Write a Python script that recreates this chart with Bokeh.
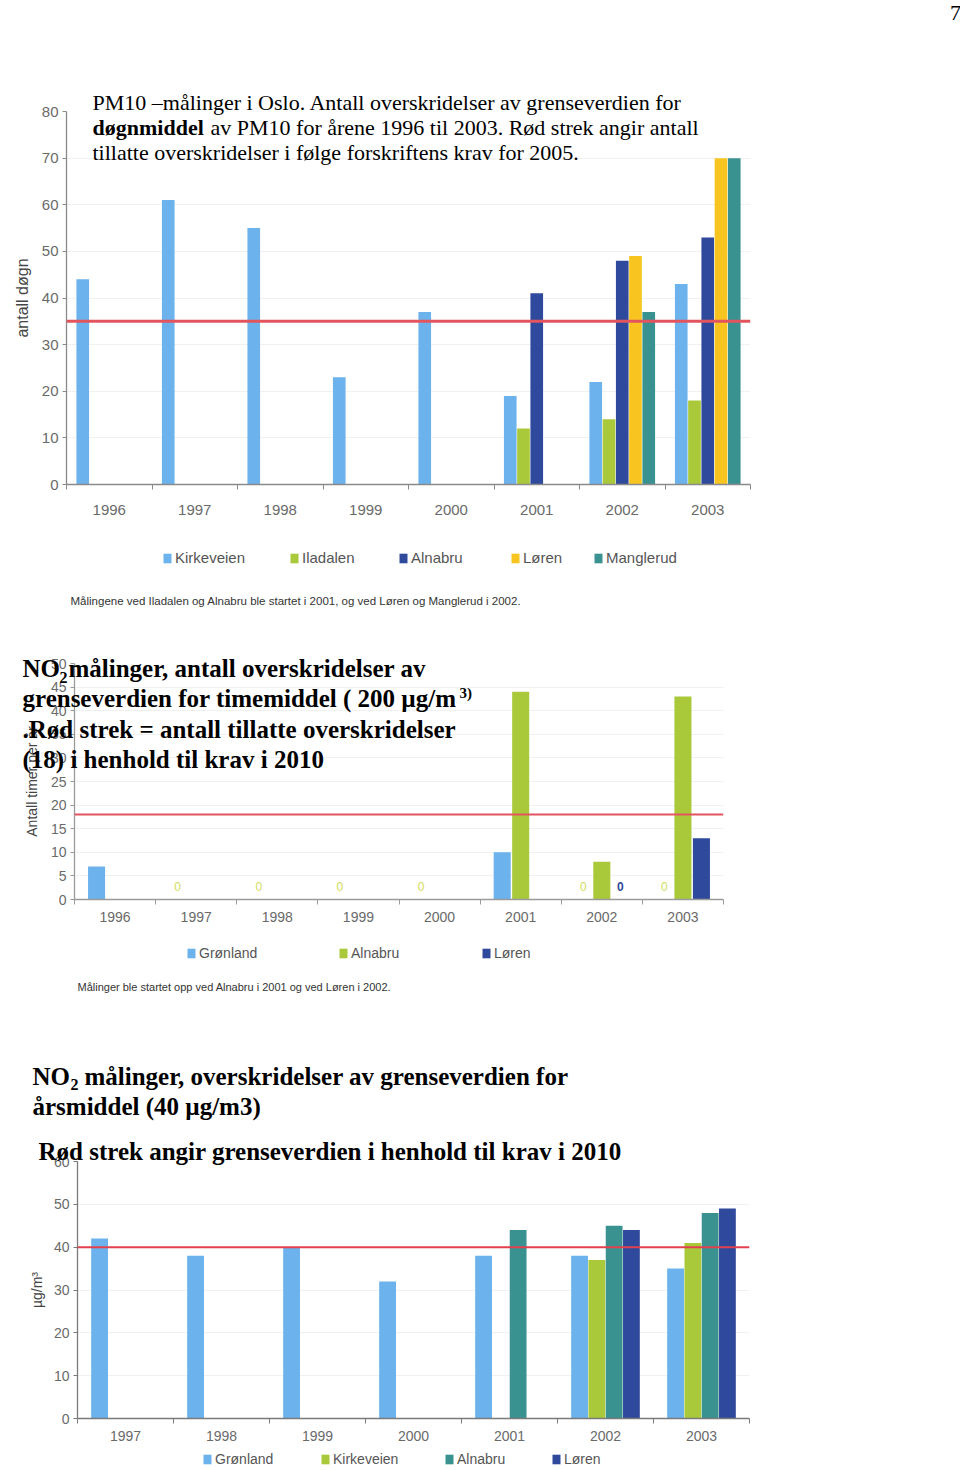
import numpy as np
from bokeh.plotting import figure
from bokeh.models import Range1d, FixedTicker, Span, Label, Legend, LegendItem
from bokeh.layouts import column
from bokeh.core.properties import value
from bokeh.embed import file_html
from bokeh.resources import INLINE

nan = float("nan")

# ---------------- Chart 1: PM10, antall døgn ----------------
pm10_years = ["1996", "1997", "1998", "1999", "2000", "2001", "2002", "2003"]
pm10_kirkeveien = [44, 61, 55, 23, 37, 19, 22, 43]
pm10_iladalen = [nan, nan, nan, nan, nan, 12, 14, 18]
pm10_alnabru = [nan, nan, nan, nan, nan, 41, 48, 53]
pm10_loren = [nan, nan, nan, nan, nan, nan, 49, 70]
pm10_manglerud = [nan, nan, nan, nan, nan, nan, 37, 70]
pm10_limit = 35
pm10_yticks = [0, 10, 20, 30, 40, 50, 60, 70, 80]

# ---------------- Chart 2: NO2 timemiddel ----------------
no2h_years = ["1996", "1997", "1998", "1999", "2000", "2001", "2002", "2003"]
no2h_gronland = [7, 0, 0, 0, 0, 10, 0, 0]
no2h_alnabru = [nan, nan, nan, nan, nan, 44, 8, 43]
no2h_loren = [nan, nan, nan, nan, nan, nan, 0, 13]
no2h_limit = 18
no2h_yticks = [0, 5, 10, 15, 20, 25, 30, 35, 40, 45, 50]

# ---------------- Chart 3: NO2 årsmiddel ----------------
no2a_years = ["1997", "1998", "1999", "2000", "2001", "2002", "2003"]
no2a_gronland = [42, 38, 40, 32, 38, 38, 35]
no2a_kirkeveien = [nan, nan, nan, nan, nan, 37, 41]
no2a_alnabru = [nan, nan, nan, nan, 44, 45, 48]
no2a_loren = [nan, nan, nan, nan, nan, 44, 49]
no2a_limit = 40
no2a_yticks = [0, 10, 20, 30, 40, 50, 60]

LIGHT = "#6cb2ec"
GREEN = "#a9c93a"
DARK = "#2f4a9c"
YELLOW = "#f8c520"
TEAL = "#3a9290"
RED = "#e2555f"
SANS = "Liberation Sans"
SERIF = "Liberation Serif"

W = 960
H = 1470


def no_align(p):
    try:
        p.frame_align = False
    except Exception:
        pass


class Panel:
    def __init__(self, fig_top, height, fl, fr, ft, fb, years, yticks, axis_label,
                 tick_size, label_size, xstand, axis_color, label_stand):
        n = len(years)
        p = figure(width=W, height=height, x_range=Range1d(0, n),
                   y_range=Range1d(0, yticks[-1]), output_backend="svg",
                   toolbar_location=None, tools="",
                   min_border_left=fl, min_border_right=W - fr,
                   min_border_top=ft - fig_top, min_border_bottom=fig_top + height - fb)
        no_align(p)
        p.outline_line_color = None
        p.background_fill_color = "white"
        p.border_fill_color = "white"
        p.xgrid.visible = False
        p.ygrid.grid_line_color = "#f1f1f1"
        p.ygrid.ticker = FixedTicker(ticks=yticks)
        xa = p.xaxis[0]
        xa.ticker = FixedTicker(ticks=[i + 0.5 for i in range(n)],
                                minor_ticks=list(range(n + 1)))
        xa.major_label_overrides = {i + 0.5: y for i, y in enumerate(years)}
        xa.major_tick_in = 0
        xa.major_tick_out = 0
        xa.minor_tick_in = 0
        xa.minor_tick_out = 5
        xa.minor_tick_line_color = axis_color
        xa.major_label_standoff = xstand
        ya = p.yaxis[0]
        ya.ticker = FixedTicker(ticks=yticks)
        ya.major_tick_in = 0
        ya.major_tick_out = 4
        ya.minor_tick_line_color = None
        ya.major_tick_line_color = axis_color
        ya.major_label_standoff = 4
        ya.axis_label = axis_label
        ya.axis_label_text_font = SANS
        ya.axis_label_text_font_style = "normal"
        ya.axis_label_text_font_size = f"{label_size}px"
        ya.axis_label_text_color = "#444444"
        ya.axis_label_standoff = label_stand
        for ax in (xa, ya):
            ax.axis_line_color = axis_color
            ax.axis_line_width = 1.3
            ax.major_label_text_font = SANS
            ax.major_label_text_font_size = f"{tick_size}px"
            ax.major_label_text_color = "#6a6a6a"
        self.p = p

    def bars(self, vals, offset, width, color):
        xs = [i + 0.5 + offset for i, v in enumerate(vals) if not np.isnan(v)]
        ts = [v for v in vals if not np.isnan(v)]
        return self.p.vbar(x=xs, top=ts, bottom=0, width=width,
                           fill_color=color, line_color=None)


# ---------- Chart 1 ----------
c1 = Panel(0, 630, 66, 750, 111, 484, pm10_years, pm10_yticks, "antall døgn",
           15, 16, 15, "#8a8a8a", 8)
c1.bars(pm10_kirkeveien, -0.31, 0.148, LIGHT)
c1.bars(pm10_iladalen, -0.155, 0.148, GREEN)
c1.bars(pm10_alnabru, 0.0, 0.148, DARK)
c1.bars(pm10_loren, 0.155, 0.148, YELLOW)
c1.bars(pm10_manglerud, 0.31, 0.148, TEAL)
c1.p.add_layout(Span(location=pm10_limit, dimension="width", line_color=RED, line_width=3))

# ---------- Chart 2 ----------
c2 = Panel(630, 410, 74, 723, 663, 899, no2h_years, no2h_yticks, "Antall timer per år",
           14, 14, 7, "#9a9a9a", 8)
c2.bars(no2h_gronland, -0.228, 0.21, LIGHT)
c2.bars(no2h_alnabru, 0.0, 0.21, GREEN)
c2.bars(no2h_loren, 0.228, 0.21, DARK)
c2.p.add_layout(Span(location=no2h_limit, dimension="width", line_color=RED, line_width=2))
zx_g = [i + 0.5 - 0.228 for i, v in enumerate(no2h_gronland) if v == 0]
zx_l = [i + 0.5 + 0.228 for i, v in enumerate(no2h_loren) if v == 0]
c2.p.text(x=zx_g, y=[2.8] * len(zx_g), text=["0"] * len(zx_g), text_font=value(SANS),
          text_font_size="12px", text_color="#d2dc5c", text_align="center",
          text_baseline="middle")
c2.p.text(x=zx_l, y=[2.8] * len(zx_l), text=["0"] * len(zx_l), text_font=value(SANS),
          text_font_size="12px", text_font_style="bold", text_color=DARK,
          text_align="center", text_baseline="middle")

# ---------- Chart 3 ----------
c3 = Panel(1040, 430, 77, 749, 1161, 1418, no2a_years, no2a_yticks, "µg/m³",
           14, 14, 7, "#7a7a7a", 6)
c3.bars(no2a_gronland, -0.27, 0.175, LIGHT)
c3.bars(no2a_kirkeveien, -0.09, 0.175, GREEN)
c3.bars(no2a_alnabru, 0.09, 0.175, TEAL)
c3.bars(no2a_loren, 0.27, 0.175, DARK)
c3.p.add_layout(Span(location=no2a_limit, dimension="width", line_color="#e2404c", line_width=2))

# ---------- Text overlay (titles, legends, notes) ----------
ov = figure(width=W, height=H, x_range=Range1d(0, W), y_range=Range1d(H, 0),
            x_axis_type=None, y_axis_type=None, output_backend="svg",
            toolbar_location=None, tools="", min_border=0,
            styles={"position": "absolute", "top": "0px", "left": "0px", "z-index": "5"})
no_align(ov)
ov.outline_line_color = None
ov.background_fill_color = None
ov.border_fill_color = None


def txt(x, y, text, size, font=SERIF, style="normal", color="black", align="left"):
    ov.add_layout(Label(x=x, y=y, text=text, text_font=font, text_font_size=f"{size}px",
                        text_font_style=style, text_color=color, text_align=align,
                        text_baseline="middle"))


def leg(color, text, x, y, size, tcolor="#555555"):
    r = ov.vbar(x=[nan], top=[nan], bottom=0, width=1, fill_color=color, line_color=None)
    lg = Legend(items=[LegendItem(label=text, renderers=[r])],
                location=(x, H - (y + 8)), orientation="horizontal",
                padding=0, margin=0, spacing=0, border_line_color=None,
                background_fill_alpha=0, glyph_width=10, glyph_height=12,
                label_height=12, label_standoff=3, label_text_font=SANS,
                label_text_font_size=f"{size}px", label_text_color=tcolor,
                label_text_baseline="middle")
    ov.add_layout(lg)


# chart 1 texts
txt(92, 102, "PM10 –målinger i Oslo. Antall overskridelser av grenseverdien for", 22)
txt(92, 127, "døgnmiddel", 22, style="bold")
txt(210, 127, "av PM10 for årene 1996 til 2003. Rød strek angir antall", 22)
txt(92, 152, "tillatte overskridelser i følge forskriftens krav for 2005.", 22)
txt(955, 12, "7", 22, align="center")
leg(LIGHT, "Kirkeveien", 162, 558, 15)
leg(GREEN, "Iladalen", 289, 558, 15)
leg(DARK, "Alnabru", 398, 558, 15)
leg(YELLOW, "Løren", 510, 558, 15)
leg(TEAL, "Manglerud", 593, 558, 15)
txt(70, 600, "Målingene ved Iladalen og Alnabru ble startet i 2001, og ved Løren og Manglerud i 2002.",
    11.5, font=SANS, color="#333333")

# chart 2 texts
txt(22, 668, "NO", 25, style="bold")
txt(59, 677, "2", 16, style="bold")
txt(68, 668, "målinger, antall overskridelser av", 25, style="bold")
txt(22, 698, "grenseverdien for timemiddel ( 200 µg/m", 25, style="bold")
txt(459, 692, "3)", 15, style="bold")
txt(22, 729, ".Rød strek = antall tillatte overskridelser", 25, style="bold")
txt(22, 759, "(18) i henhold til krav i 2010", 25, style="bold")
leg(LIGHT, "Grønland", 186, 953, 14)
leg(GREEN, "Alnabru", 338, 953, 14)
leg(DARK, "Løren", 481, 953, 14)
txt(77, 986, "Målinger ble startet opp ved Alnabru i 2001 og ved Løren i 2002.",
    11, font=SANS, color="#333333")

# chart 3 texts
txt(32, 1076, "NO", 25, style="bold")
txt(70, 1084, "2", 16, style="bold")
txt(84, 1076, "målinger, overskridelser av grenseverdien for", 25, style="bold")
txt(32, 1106, "årsmiddel (40 µg/m3)", 25, style="bold")
txt(38, 1151, "Rød strek angir grenseverdien i henhold til krav i 2010", 25, style="bold")
leg(LIGHT, "Grønland", 202, 1459, 14)
leg(GREEN, "Kirkeveien", 320, 1459, 14)
leg(TEAL, "Alnabru", 444, 1459, 14)
leg(DARK, "Løren", 551, 1459, 14)

layout = column(c1.p, c2.p, c3.p, ov, spacing=0)
open("out.html", "w").write(file_html(layout, INLINE))
